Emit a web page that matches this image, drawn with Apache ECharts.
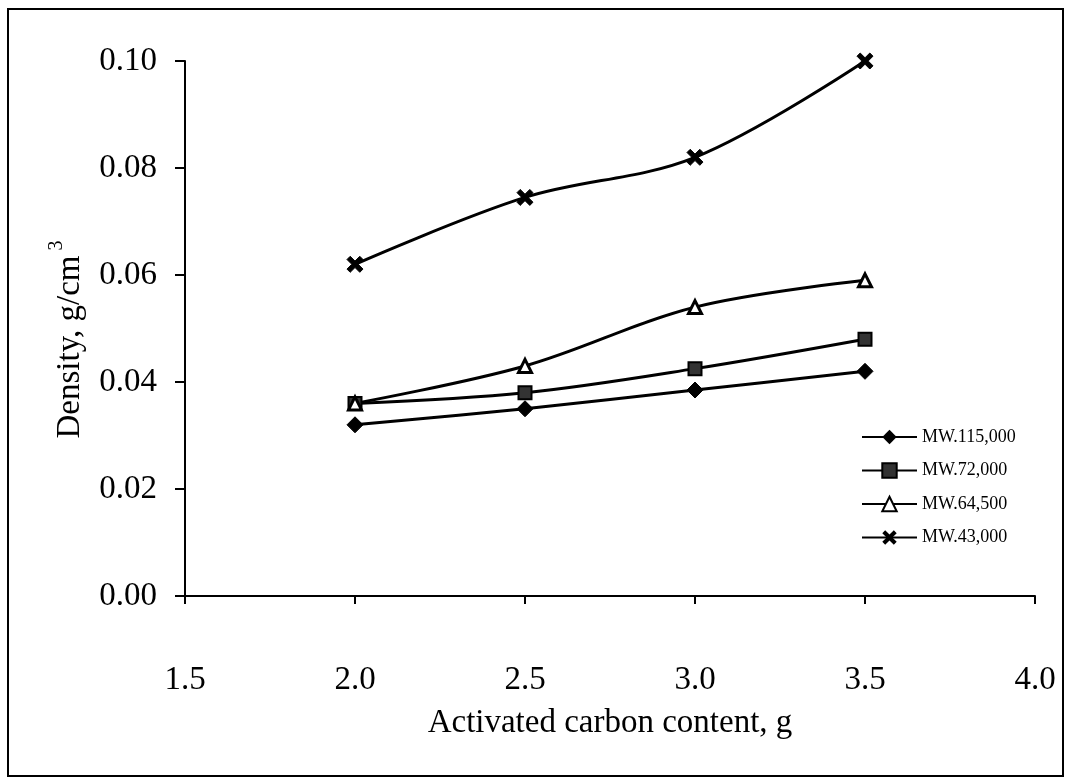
<!DOCTYPE html>
<html>
<head>
<meta charset="utf-8">
<script src="https://cdn.jsdelivr.net/npm/echarts@6/dist/echarts.min.js"></script>
<style>
  html, body { margin: 0; padding: 0; background: #fff; }
  #chart { width: 1069px; height: 778px; }
</style>
</head>
<body>
<div id="chart"></div>
<script>
// activated carbon content (g)
const carbon = [2.0, 2.5, 3.0, 3.5]
const mw115000 = [0.032, 0.035, 0.0385, 0.042]
const mw72000 = [0.036, 0.038, 0.0425, 0.048]
const mw64500 = [0.036, 0.043, 0.054, 0.059]
const mw43000 = [0.062, 0.0745, 0.082, 0.100]
const seriesNames = ['MW.115,000', 'MW.72,000', 'MW.64,500', 'MW.43,000']

const font = '"Liberation Serif", "Times New Roman", serif'
const crossPath = 'path://M0,2 L2,0 L5,3 L8,0 L10,2 L7,5 L10,8 L8,10 L5,7 L2,10 L0,8 L3,5 Z'

function pairs(vals) {
  return carbon.map((c, i) => [c, vals[i]])
}

const chart = echarts.init(document.getElementById('chart'))

const base = {
  type: 'line',
  smooth: 0.35,
  lineStyle: { color: '#000', width: 3 },
  itemStyle: { color: '#000', borderColor: '#000' },
  emphasis: { disabled: true }
}

chart.setOption({
  backgroundColor: '#fff',
  animation: false,
  graphic: [{
    type: 'rect',
    shape: { x: 8, y: 9, width: 1055, height: 767 },
    style: { fill: 'none', stroke: '#000', lineWidth: 2 }
  }],
  grid: { left: 185, right: 34, top: 61, bottom: 182 },
  legend: {
    orient: 'vertical',
    left: 856, top: 423,
    itemWidth: 55, itemHeight: 18, itemGap: 15.5,
    textStyle: { fontFamily: font, fontSize: 18, color: '#000' },
    data: seriesNames
  },
  xAxis: {
    type: 'value',
    min: 1.5, max: 4.0, interval: 0.5,
    name: 'Activated carbon content, g',
    nameLocation: 'middle', nameGap: 111,
    nameTextStyle: { fontFamily: font, fontSize: 33, color: '#000' },
    axisLine: { lineStyle: { color: '#000', width: 2 } },
    axisTick: { inside: false, length: 8, lineStyle: { color: '#000', width: 2 } },
    axisLabel: { margin: 68, fontFamily: font, fontSize: 33, color: '#000', formatter: v => v.toFixed(1) },
    splitLine: { show: false }
  },
  yAxis: {
    type: 'value',
    min: 0, max: 0.1, interval: 0.02,
    name: '{n|Density, g/cm}{s|3}',
    nameLocation: 'middle', nameGap: 92,
    nameTextStyle: {
      padding: [0, 22, 0, 0],
      rich: {
        n: { fontFamily: font, fontSize: 33, color: '#000' },
        s: { fontFamily: font, fontSize: 20, color: '#000', verticalAlign: 'top', padding: [0, 0, 26, 5] }
      }
    },
    axisLine: { show: true, lineStyle: { color: '#000', width: 2 } },
    axisTick: { show: true, length: 10, lineStyle: { color: '#000', width: 2 } },
    axisLabel: { margin: 28, fontFamily: font, fontSize: 33, color: '#000', formatter: v => v.toFixed(2) },
    splitLine: { show: false }
  },
  series: [
    Object.assign({}, base, {
      name: seriesNames[0], data: pairs(mw115000),
      symbol: 'diamond', symbolSize: 16
    }),
    Object.assign({}, base, {
      name: seriesNames[1], data: pairs(mw72000),
      symbol: 'rect', symbolSize: 13,
      itemStyle: { color: '#333', borderColor: '#000', borderWidth: 2 }
    }),
    Object.assign({}, base, {
      name: seriesNames[2], data: pairs(mw64500),
      symbol: 'triangle', symbolSize: 13,
      itemStyle: { color: '#fff', borderColor: '#000', borderWidth: 3 }
    }),
    Object.assign({}, base, {
      name: seriesNames[3], data: pairs(mw43000),
      symbol: crossPath, symbolSize: 16
    })
  ]
})
</script>
</body>
</html>
